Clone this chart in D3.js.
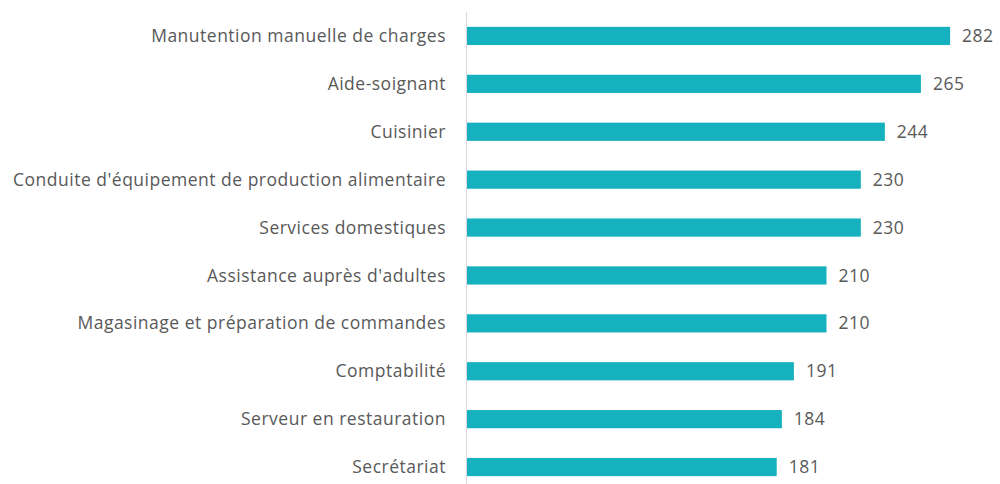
<!DOCTYPE html>
<html lang="fr">
<head>
    <meta charset="UTF-8">
    <script src="https://cdnjs.cloudflare.com/ajax/libs/d3/7.8.5/d3.min.js"></script>
    <title>Métiers</title>
    <style>
        body { margin: 0; background: #fff; }
        text { font-family: "Open Sans", sans-serif; fill: #595959; }
    </style>
</head>
<body>
    <script>
        var width = 1000;
        var height = 484;

        var categories = [
            'Manutention manuelle de charges',
            'Aide-soignant',
            'Cuisinier',
            "Conduite d'équipement de production alimentaire",
            'Services domestiques',
            "Assistance auprès d'adultes",
            'Magasinage et préparation de commandes',
            'Comptabilité',
            'Serveur en restauration',
            'Secrétariat'
        ];
        var values = [282, 265, 244, 230, 230, 210, 210, 191, 184, 181];

        var x = d3.scaleLinear()
                    .domain([0, 300])
                    .range([466, 981]);

        var y = d3.scaleBand()
                    .domain(categories)
                    .range([12, 491])
                    .paddingInner(0.62)
                    .paddingOuter(0.31);

        var svg = d3.select('body')
                    .append('svg')
                    .attr('width', width)
                    .attr('height', height);

        // ligne de l'axe vertical
        svg.append('line')
            .attr('x1', x(0) + 0.5)
            .attr('x2', x(0) + 0.5)
            .attr('y1', 12)
            .attr('y2', height)
            .attr('stroke', '#d9d9d9')
            .attr('stroke-width', 1);

        svg.selectAll('rect')
            .data(values)
            .enter()
                .append('rect')
                .attr('x', x(0) + 1)
                .attr('y', function(d, i){ return y(categories[i]); })
                .attr('width', function(d){ return x(d) - x(0) - 1; })
                .attr('height', y.bandwidth())
                .attr('fill', '#16b1be');

        svg.selectAll('.lab')
            .data(categories)
            .enter()
                .append('text')
                .attr('class', 'lab')
                .attr('x', x(0) - 20)
                .attr('y', function(d){ return y(d) + y.bandwidth() / 2; })
                .attr('dy', '0.35em')
                .attr('text-anchor', 'end')
                .attr('font-size', 17.5)
                .attr('letter-spacing', 0.5)
                .text(function(d){ return d; });

        svg.selectAll('.val')
            .data(values)
            .enter()
                .append('text')
                .attr('class', 'val')
                .attr('x', function(d){ return x(d) + 12; })
                .attr('y', function(d, i){ return y(categories[i]) + y.bandwidth() / 2; })
                .attr('dy', '0.35em')
                .attr('font-size', 17.5)
                .attr('letter-spacing', 0.5)
                .text(function(d){ return d; });
    </script>
</body>
</html>
